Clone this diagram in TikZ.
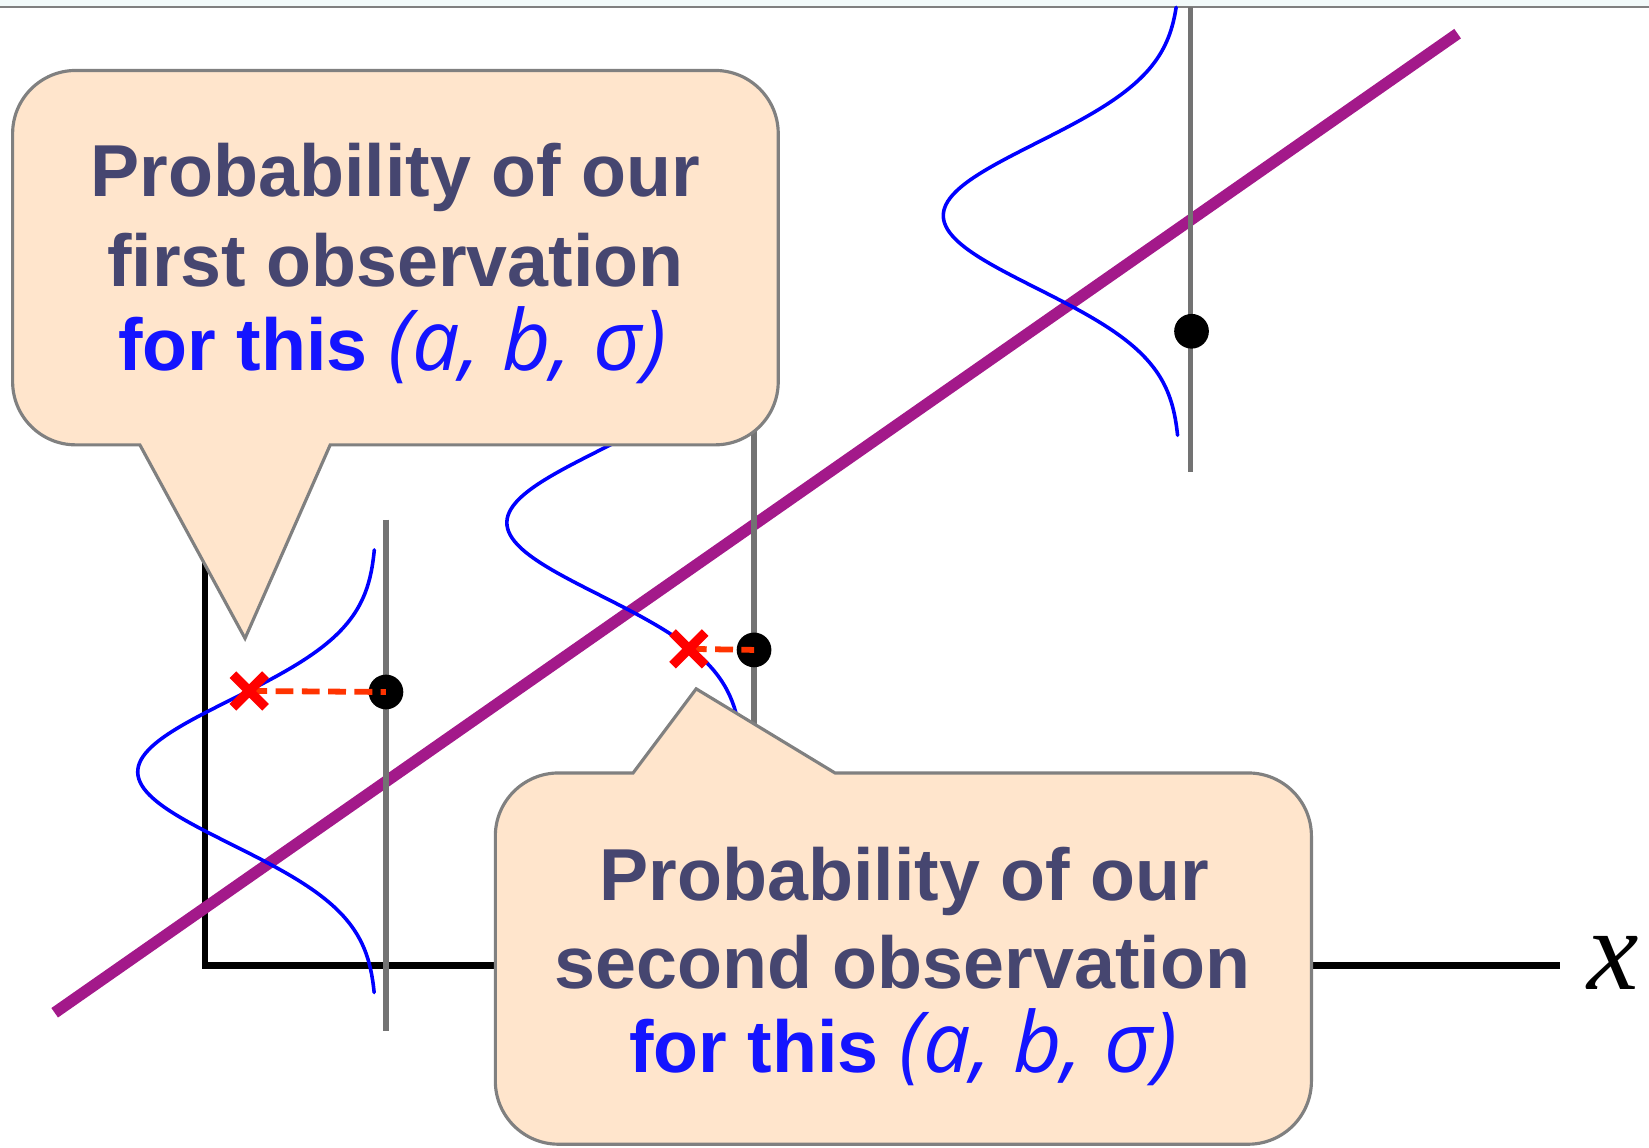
\documentclass[tikz,border=0pt]{standalone}
\usepackage{fontspec}
\setmainfont{Liberation Sans}
\newfontfamily\handfont{Open Sans}
\newfontfamily\serffont{Liberation Serif}
\usetikzlibrary{shapes.misc}
\definecolor{peach}{RGB}{255,229,204}
\definecolor{edgegray}{RGB}{128,128,128}
\definecolor{linegray}{RGB}{115,115,115}
\definecolor{fitpurple}{RGB}{163,25,138}
\definecolor{slatetext}{RGB}{70,70,112}
\definecolor{bluetext}{RGB}{20,20,255}
\definecolor{curveblue}{RGB}{0,0,255}
\definecolor{dashred}{RGB}{255,51,0}
\definecolor{topbg}{RGB}{242,250,250}
\begin{document}
\begin{tikzpicture}[x=1pt,y=-1pt,
  gline/.style={draw=linegray,line width=5pt},
  gauss/.style={draw=curveblue,line width=3.4pt,line cap=round},
  obsdot/.style={circle,fill=black,minimum size=33pt,inner sep=0pt},
  xmark/.style={cross out,draw=red,line width=9pt,minimum size=22pt,inner sep=0pt},
  dashline/.style={draw=dashred,line width=5.5pt,dash pattern=on 17pt off 8pt},
  callout/.style={fill=peach,draw=edgegray,line width=3pt,line join=miter},
  bigtxt/.style={font=\fontsize{70pt}{84pt}\selectfont\bfseries,inner sep=0pt,anchor=base},
  handtxt/.style={font=\handfont\mdseries\itshape\fontsize{80pt}{84pt}\selectfont},
]
\useasboundingbox (0,0) rectangle (1568,1091);
% top strip
\fill[topbg] (0,0) rectangle (1568,7);
\draw[edgegray,line width=2pt] (0,7) -- (1568,7);

% axes
\draw[black,line width=6.5pt,line join=miter] (195,400) -- (195,918) -- (1483,918);
\node[font=\fontsize{110pt}{110pt}\serffont\itshape,inner sep=0pt,anchor=base] (xlab) at (1534,941) {x};

% fitted line
\draw[fitpurple,line width=11pt] (52,963) -- (1386,32);

% vertical grey lines
\draw[gline] (367,494) -- (367,980);
\draw[gline] (717,200) -- (717,750);
\draw[gline] (1132,7) -- (1132,449);

% gaussian curves
\draw[gauss] plot[domain=-3.06:3.04,samples=140,smooth] ({358-227*exp(-\x*\x/2)},{734+69*\x});
\draw[gauss] plot[domain=-3.1:3.04,samples=140,smooth] ({707-225*exp(-\x*\x/2)},{497+69*\x});
\draw[gauss] plot[domain=-2.87:3.03,samples=140,smooth] ({1122-225*exp(-\x*\x/2)},{205+69*\x});

% observations
\node[obsdot] (d1) at (367,658) {};
\node[obsdot] (d2) at (717,618) {};
\node[obsdot] (d3) at (1133,315) {};
\coordinate (x1c) at (237,657);
\coordinate (x2c) at (655,617);
\draw[dashline] (x1c) -- (d1.center);
\draw[dashline] (x2c) -- (d2.center);
\node[xmark] (x1) at (x1c) {};
\node[xmark] (x2) at (x2c) {};

% callout 1
\draw[callout] (72,67) -- (680,67)
  .. controls (713.1,67) and (740,93.9) .. (740,127)
  -- (740,363)
  .. controls (740,396.1) and (713.1,423) .. (680,423)
  -- (314,423) -- (233,607) -- (133,423)
  -- (72,423)
  .. controls (38.9,423) and (12,396.1) .. (12,363)
  -- (12,127)
  .. controls (12,93.9) and (38.9,67) .. (72,67) -- cycle;
\node[bigtxt,text=slatetext] (c1a) at (376,187) {Probability of our};
\node[bigtxt,text=slatetext] (c1b) at (376,272) {first observation};
\node[bigtxt,text=bluetext] (c1c) at (373,352) {for this {\handfont\mdseries\itshape\fontsize{80pt}{84pt}\selectfont (a, b, σ)}};

% callout 2
\draw[callout] (531,735) -- (602,735) -- (662,655) -- (794,735)
  -- (1187,735)
  .. controls (1220.1,735) and (1247,761.9) .. (1247,795)
  -- (1247,1028)
  .. controls (1247,1061.1) and (1220.1,1088) .. (1187,1088)
  -- (531,1088)
  .. controls (497.9,1088) and (471,1061.1) .. (471,1028)
  -- (471,795)
  .. controls (471,761.9) and (497.9,735) .. (531,735) -- cycle;
\node[bigtxt,text=slatetext] (c2a) at (860,856) {Probability of our};
\node[bigtxt,text=slatetext] (c2b) at (858,940) {second observation};
\node[bigtxt,text=bluetext] (c2c) at (859,1020) {for this {\handfont\mdseries\itshape\fontsize{80pt}{84pt}\selectfont (a, b, σ)}};
\end{tikzpicture}
\end{document}
